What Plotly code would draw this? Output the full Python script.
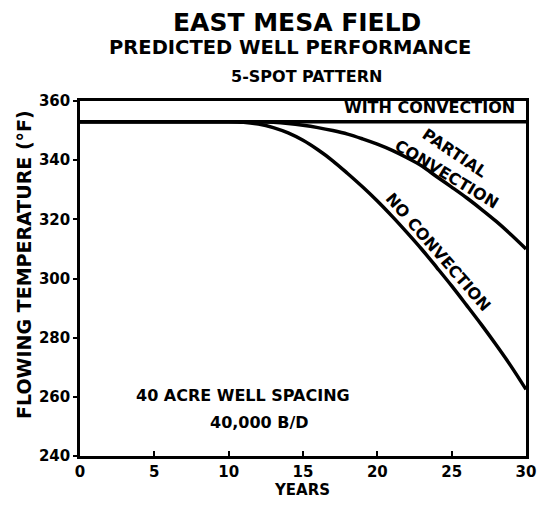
import plotly.graph_objects as go

years = list(range(0, 31))
with_convection = [353.0] * 31
partial_convection = [353.0] * 13 + [352.8, 352.4, 351.8, 351.0, 350.0, 348.8, 347.2, 345.4,
                                      343.3, 340.8, 338.0, 334.4, 330.9, 327.3, 323.4, 319.3, 314.8, 310.0]
no_convection = [353.0] * 11 + [352.8, 352.2, 351.0, 349.2, 346.7, 343.5, 339.8, 335.5, 331.0,
                                  326.2, 321.0, 315.5, 309.8, 303.7, 297.5, 291.0, 284.4, 277.5, 270.3, 262.5]

x_ticks = [0, 5, 10, 15, 20, 25, 30]
y_ticks = [240, 260, 280, 300, 320, 340, 360]

FONT = "DejaVu Sans"
BOLD = dict(family=FONT, color="black", weight="bold")

OFF = 8  # default page body margin
L, R, T, B = 80 - OFF, 22, 101 - OFF, 51
W, H = 548 - OFF, 507 - OFF
PW, PH = W - L - R, H - T - B

fig = go.Figure()
for ys in (with_convection, partial_convection, no_convection):
    fig.add_trace(go.Scatter(x=years, y=ys, mode="lines", line=dict(color="black", width=3.5, shape="spline"),
                             showlegend=False, hoverinfo="skip"))


def ann(x, y, text, size=16, angle=0):
    fig.add_annotation(x=x, y=y, text=text, showarrow=False, textangle=angle,
                       font=dict(size=size, **BOLD))


def pix(px, py, text, size, angle=0):
    # px, py are page coordinates
    fig.add_annotation(xref="paper", yref="paper", x=(px - OFF - L) / PW, y=(H - B - (py - OFF)) / PH,
                       xanchor="center", yanchor="middle", text=text, showarrow=False,
                       textangle=angle, font=dict(size=size, **BOLD))


ann(23.5, 357.7, "WITH CONVECTION", 16)
ann(25.25, 342.4, "PARTIAL", 16, 34)
ann(24.7, 335.3, "CONVECTION", 16, 31)
ann(24.05, 309.0, "NO CONVECTION", 16, 49)
ann(10.96, 260.3, "40 ACRE WELL SPACING", 16)
ann(12.1, 251.2, "40,000 B/D", 16)

pix(297, 22, "EAST MESA FIELD", 25)
pix(290, 48, "PREDICTED WELL PERFORMANCE", 19.5)
pix(306, 76, "5-SPOT PATTERN", 16)
pix(302, 490, "YEARS", 15)
pix(24, 265, "FLOWING TEMPERATURE (°F)", 19, -90)

fig.update_layout(
    width=W, height=H,
    margin=dict(l=L, r=R, t=T, b=B, autoexpand=False),
    paper_bgcolor="white", plot_bgcolor="white",
    font=dict(family=FONT, color="black"),
    xaxis=dict(range=[0, 30], tickvals=x_ticks, showgrid=False, zeroline=False, automargin=False,
               showline=True, linecolor="black", linewidth=2.5, mirror=True,
               ticks="inside", ticklen=5, tickwidth=2, tickcolor="black",
               tickfont=dict(size=15, **BOLD)),
    yaxis=dict(range=[240, 360], tickvals=y_ticks, showgrid=False, zeroline=False, automargin=False,
               showline=True, linecolor="black", linewidth=2.5, mirror=True,
               ticks="outside", ticklen=4, tickwidth=2, tickcolor="black",
               tickfont=dict(size=15, **BOLD)),
)

fig.write_html("out.html")
